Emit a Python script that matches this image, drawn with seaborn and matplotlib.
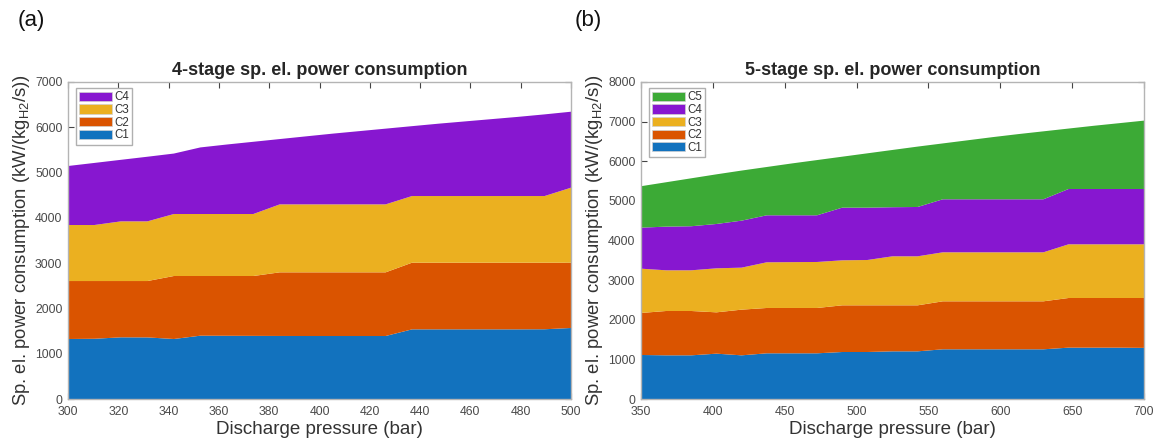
import matplotlib
matplotlib.use("Agg")
import matplotlib.pyplot as plt
import seaborn as sns
from matplotlib.patches import Patch

# ---------------- data: 4-stage ----------------
pressure_4 = [300.0, 310.5, 321.1, 331.6, 342.1, 352.6, 363.2, 373.7, 384.2, 394.7,
              405.3, 415.8, 426.3, 436.8, 447.4, 457.9, 468.4, 478.9, 489.5, 500.0]
s4_c1 = [1325, 1330, 1362, 1360, 1325, 1398, 1396, 1394, 1392, 1391,
         1391, 1391, 1391, 1538, 1538, 1538, 1538, 1538, 1540, 1568]
s4_c2 = [1280, 1275, 1243, 1245, 1391, 1318, 1320, 1322, 1405, 1406,
         1406, 1406, 1406, 1472, 1472, 1472, 1472, 1472, 1470, 1442]
s4_c3 = [1237, 1237, 1318, 1318, 1369, 1369, 1369, 1369, 1501, 1501,
         1501, 1501, 1501, 1472, 1472, 1472, 1472, 1472, 1472, 1656]
s4_c4 = [1303, 1371, 1359, 1427, 1335, 1470, 1535, 1595, 1442, 1502,
         1562, 1617, 1672, 1543, 1598, 1648, 1698, 1748, 1803, 1678]

# ---------------- data: 5-stage ----------------
pressure_5 = [350.0, 367.5, 385.0, 402.5, 420.0, 437.5, 455.0, 472.5, 490.0, 507.5,
              525.0, 542.5, 560.0, 577.5, 595.0, 612.5, 630.0, 647.5, 665.0, 682.5, 700.0]
s5_c1 = [1111, 1102, 1102, 1144, 1102, 1153, 1153, 1153, 1186, 1186,
         1203, 1203, 1254, 1254, 1254, 1254, 1254, 1296, 1296, 1296, 1290]
s5_c2 = [1060, 1119, 1119, 1043, 1153, 1144, 1144, 1144, 1178, 1178,
         1161, 1161, 1211, 1211, 1211, 1211, 1211, 1253, 1253, 1253, 1259]
s5_c3 = [1118, 1027, 1027, 1111, 1060, 1153, 1157, 1161, 1136, 1144,
         1237, 1237, 1237, 1237, 1237, 1237, 1237, 1355, 1355, 1355, 1355]
s5_c4 = [1035, 1102, 1112, 1119, 1186, 1186, 1182, 1178, 1329, 1321,
         1239, 1245, 1338, 1338, 1338, 1338, 1338, 1396, 1396, 1396, 1396]
s5_c5 = [1046, 1120, 1210, 1253, 1264, 1219, 1309, 1394, 1286, 1371,
         1445, 1524, 1410, 1490, 1570, 1645, 1715, 1525, 1595, 1660, 1725]

stage_labels = ["C1", "C2", "C3", "C4", "C5"]
stage_colors = ["#1272BE", "#DA5400", "#EBB020", "#8717D0", "#3CAA36"]

x4_ticks = [300, 320, 340, 360, 380, 400, 420, 440, 460, 480, 500]
y4_ticks = [0, 1000, 2000, 3000, 4000, 5000, 6000, 7000]
x5_ticks = [350, 400, 450, 500, 550, 600, 650, 700]
y5_ticks = [0, 1000, 2000, 3000, 4000, 5000, 6000, 7000, 8000]

titles = ["4-stage sp. el. power consumption", "5-stage sp. el. power consumption"]
xlabel = "Discharge pressure (bar)"
ylabel = r"Sp. el. power consumption (kW/(kg$_{H2}$/s))"
panel_tags = ["(a)", "(b)"]

# ---------------- style ----------------
sns.set_theme(style="white")
plt.rcParams["font.family"] = ["Liberation Sans", "DejaVu Sans"]
plt.rcParams["mathtext.default"] = "regular"

fig = plt.figure(figsize=(11.58, 4.41), dpi=100)
W, H = 1158, 441
ax_a = fig.add_axes([68 / W, 1 - 399 / H, 503 / W, 317 / H])
ax_b = fig.add_axes([641 / W, 1 - 399 / H, 503 / W, 317 / H])

spine_col = "#b4b4b4"
tick_col = "#444444"


def draw(ax, x, series, xticks, yticks, title):
    n = len(series)
    ax.stackplot(x, *series, colors=stage_colors[:n], linewidth=0, edgecolor="none")
    ax.set_xlim(xticks[0], xticks[-1])
    ax.set_ylim(yticks[0], yticks[-1])
    ax.set_xticks(xticks)
    ax.set_yticks(yticks)
    ax.tick_params(direction="in", length=4, width=0.8, color=tick_col,
                   labelsize=8.8, labelcolor="#4a4a4a", top=True, right=True,
                   bottom=True, left=True)
    ax.tick_params(axis="x", pad=5)
    ax.tick_params(axis="y", pad=4)
    for s in ax.spines.values():
        s.set_color(spine_col)
        s.set_linewidth(1.0)
        s.set_zorder(5)
    ax.set_title(title, fontsize=13, fontweight="bold", color="#262626", pad=5)
    ax.set_xlabel(xlabel, fontsize=13.5, color="#333333", labelpad=2)
    ax.set_ylabel(ylabel, fontsize=13.3, color="#333333", labelpad=2)
    handles = [Patch(facecolor=stage_colors[i], edgecolor="#d0d0d0", linewidth=0.5,
                     label=stage_labels[i]) for i in range(n)][::-1]
    leg = ax.legend(handles=handles, loc="upper left",
                    bbox_to_anchor=(8 / 503, 1 - 6 / 317), borderaxespad=0,
                    fontsize=8.3, handlelength=2.8, handleheight=0.85,
                    labelspacing=0.05, borderpad=0.3, handletextpad=0.2,
                    frameon=True, fancybox=False, framealpha=1)
    leg.get_frame().set_edgecolor("#b0b0b0")
    leg.get_frame().set_linewidth(1.0)
    for t in leg.get_texts():
        t.set_color("#333333")


draw(ax_a, pressure_4, [s4_c1, s4_c2, s4_c3, s4_c4], x4_ticks, y4_ticks, titles[0])
draw(ax_b, pressure_5, [s5_c1, s5_c2, s5_c3, s5_c4, s5_c5], x5_ticks, y5_ticks, titles[1])

fig.text(18 / W, 1 - 10 / H, panel_tags[0], fontsize=16, va="top", ha="left", color="#111111")
fig.text(575 / W, 1 - 10 / H, panel_tags[1], fontsize=16, va="top", ha="left", color="#111111")

fig.savefig("out.png", dpi=100)
